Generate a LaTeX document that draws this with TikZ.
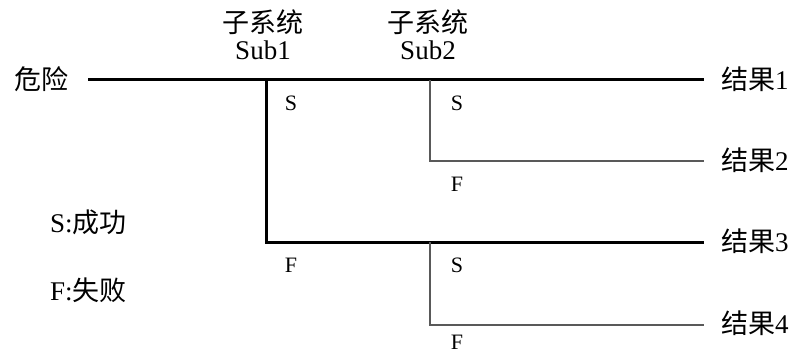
\documentclass[tikz,border=0pt]{standalone}
\usepackage{fontspec}
\setmainfont{Liberation Serif}
\newfontfamily\cjk{Noto Sans CJK SC}
\tikzset{
  thickline/.style={line width=3pt, black},
  thinline/.style={line width=1.1pt, black!65},
  bigtxt/.style={font=\fontsize{27}{29}\selectfont, inner sep=0pt},
  smalltxt/.style={font=\fontsize{22}{24}\selectfont, inner sep=0pt},
}
\begin{document}
\begin{tikzpicture}[x=1pt,y=-1pt]
\useasboundingbox (0,0) rectangle (796,353);
% coordinates
\coordinate (start) at (88,80);
\coordinate (b1) at (266,80);
\coordinate (b2) at (430,80);
\coordinate (end1) at (704,80);
\coordinate (b2f) at (430,161);
\coordinate (end2) at (704,161);
\coordinate (b1f) at (266,242);
\coordinate (b3) at (430,242);
\coordinate (end3) at (704,242);
\coordinate (b3f) at (430,325);
\coordinate (end4) at (704,325);
% lines
\draw[thickline] (start) -- (end1);
\draw[thickline] (b1) -- (b1f) -- (end3);
\draw[thinline] (b2) -- (b2f) -- (end2);
\draw[thinline] (b3) -- (b3f) -- (end4);
% texts
\node[bigtxt] (hazard) at (41,79) {\cjk 危险};
\node[bigtxt] (sys1) at (263,22) {\cjk 子系统};
\node[bigtxt] (sub1) at (263,50) {Sub1};
\node[bigtxt] (sys2) at (428,22) {\cjk 子系统};
\node[bigtxt] (sub2) at (428,50) {Sub2};
\node[bigtxt, anchor=west] (r1) at (721,79) {{\cjk 结果}1};
\node[bigtxt, anchor=west] (r2) at (721,160) {{\cjk 结果}2};
\node[bigtxt, anchor=west] (r3) at (721,241) {{\cjk 结果}3};
\node[bigtxt, anchor=west] (r4) at (721,323) {{\cjk 结果}4};
\node[bigtxt, anchor=west] (legS) at (50,222) {S:{\cjk 成功}};
\node[bigtxt, anchor=west] (legF) at (50,290) {F:{\cjk 失败}};
\node[smalltxt] (s1) at (291,103) {S};
\node[smalltxt] (f1) at (291,265) {F};
\node[smalltxt] (s2) at (457,103) {S};
\node[smalltxt] (f2) at (457,184) {F};
\node[smalltxt] (s3) at (457,265) {S};
\node[smalltxt] (f3) at (457,342) {F};
\end{tikzpicture}
\end{document}
